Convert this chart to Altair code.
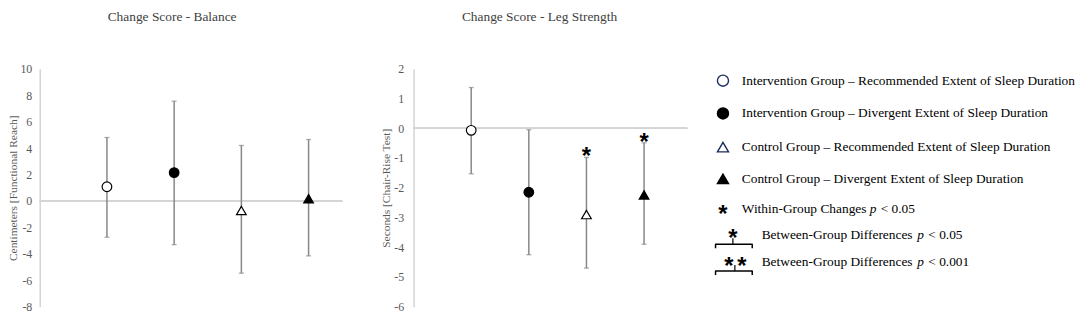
import altair as alt
import pandas as pd

# ---------------- data ----------------
groups = [
    "Intervention Group – Recommended Extent of Sleep Duration",
    "Intervention Group – Divergent Extent of Sleep Duration",
    "Control Group – Recommended Extent of Sleep Duration",
    "Control Group – Divergent Extent of Sleep Duration",
]
group_pos = [1, 2, 3, 4]
marker_shape = ["circle", "circle", "triangle-up", "triangle-up"]
marker_fill = ["white", "black", "white", "black"]

balance_mean = [1.08, 2.15, -0.72, 0.17]
balance_upper = [4.8, 7.55, 4.2, 4.65]
balance_lower = [-2.74, -3.3, -5.46, -4.15]
balance_within_sig = [0, 0, 0, 0]

leg_mean = [-0.07, -2.15, -2.9, -2.24]
leg_upper = [1.37, -0.05, -0.98, -0.49]
leg_lower = [-1.53, -4.25, -4.7, -3.9]
leg_within_sig = [0, 0, 1, 1]

balance_ticks = [10, 8, 6, 4, 2, 0, -2, -4, -6, -8]
leg_ticks = [2, 1, 0, -1, -2, -3, -4, -5, -6]

legend_labels = groups + [
    "Within-Group Changes",
    "Between-Group Differences",
    "Between-Group Differences",
]
legend_pvals = ["< 0.05", "< 0.05", "< 0.001"]

# ---------------- style ----------------
SERIF = "Liberation Serif"
STAR_FONT = "Liberation Sans"
GRID = "#d4d4d4"
BAR = "#878787"
LABEL = "#595959"
TITLE = "#404040"


def panel(title, ytitle, mean, upper, lower, sig, ydomain, yticks, xmax,
          width, height, title_dx, lab_pad, title_pad):
    df = pd.DataFrame({
        "group": groups, "pos": group_pos, "mean": mean, "upper": upper,
        "lower": lower, "shape": marker_shape, "fill": marker_fill,
        "sig": sig, "zero": [0] * len(groups),
    })
    xenc = alt.X("pos:Q", scale=alt.Scale(domain=[0, xmax], nice=False), axis=None)
    ysc = alt.Scale(domain=ydomain, nice=False, zero=False)
    yaxis = alt.Axis(
        values=yticks, ticks=False, grid=False, domainColor=GRID, domainWidth=1.5,
        labelColor=LABEL, labelFont=SERIF, labelFontSize=12, labelPadding=lab_pad,
        labelExpr="'' + datum.value",
        title=ytitle, titleFont=SERIF, titleFontSize=11.5, titleFontWeight="normal",
        titleColor=LABEL, titlePadding=title_pad,
    )

    def Y(field):
        return alt.Y(f"{field}:Q", scale=ysc, axis=yaxis)

    base = alt.Chart(df)
    zero = base.mark_rule(color=GRID, strokeWidth=1.5).encode(y=Y("zero"))
    err = base.mark_rule(color=BAR, strokeWidth=1.5).encode(
        x=xenc, y=Y("lower"), y2="upper")
    cap_hi = base.mark_tick(orient="horizontal", size=5, thickness=1.3, color=BAR).encode(
        x=xenc, y=Y("upper"))
    cap_lo = base.mark_tick(orient="horizontal", size=5, thickness=1.3, color=BAR).encode(
        x=xenc, y=Y("lower"))
    pts = base.mark_point(filled=True, stroke="black", strokeWidth=1.2, size=95,
                          opacity=1).encode(
        x=xenc, y=Y("mean"),
        shape=alt.Shape("shape:N", scale=None, legend=None),
        fill=alt.Fill("fill:N", scale=None, legend=None),
    )
    star = base.transform_filter("datum.sig == 1").mark_text(
        text="*", font=STAR_FONT, fontWeight="bold", fontSize=24, color="black",
        baseline="alphabetic", dy=7,
    ).encode(x=xenc, y=Y("upper"))

    return alt.layer(zero, err, cap_hi, cap_lo, pts, star).properties(
        width=width, height=height,
        title=alt.TitleParams(title, font=SERIF, fontSize=13.5, fontWeight="normal",
                              color=TITLE, offset=40, anchor="middle", dx=title_dx),
    )


left = panel("Change Score - Balance", "Centimeters  [Functional  Reach]",
             balance_mean, balance_upper, balance_lower, balance_within_sig,
             [-8, 10], balance_ticks, 4.5, 305, 240, -19, 8, 1)
mid = panel("Change Score - Leg Strength", "Seconds [Chair-Rise Test]",
            leg_mean, leg_upper, leg_lower, leg_within_sig,
            [-6, 2], leg_ticks, 4.75, 276, 240, -11, 10, 2)

# ---------------- legend panel ----------------
one = pd.DataFrame({"k": [0]})
legend_y = [12, 45, 79, 111, 141, 168, 195]
layers = []
legend_stroke = ["#1c2b5a", "black", "#1c2b5a", "black"]
for i in range(4):
    layers.append(
        alt.Chart(one).mark_point(
            shape=marker_shape[i], filled=True, fill=marker_fill[i],
            stroke=legend_stroke[i], strokeWidth=1.4, size=125, opacity=1,
        ).encode(x=alt.value(8), y=alt.value(legend_y[i]))
    )
for i, lab in enumerate(legend_labels):
    layers.append(
        alt.Chart(one).mark_text(
            text=lab, font=SERIF, fontSize=13.5, color="black", align="left",
            baseline="middle",
        ).encode(x=alt.value(27 if i < 5 else 47), y=alt.value(legend_y[i]))
    )
p_x = [156, 204, 204]
for j, pv in enumerate(legend_pvals):
    yy = legend_y[4 + j]
    layers.append(
        alt.Chart(one).mark_text(text="p", font=SERIF, fontSize=13.5, fontStyle="italic",
                                 color="black", align="left", baseline="middle")
        .encode(x=alt.value(p_x[j]), y=alt.value(yy))
    )
    layers.append(
        alt.Chart(one).mark_text(text=pv, font=SERIF, fontSize=13.5, color="black",
                                 align="left", baseline="middle")
        .encode(x=alt.value(p_x[j] + 11), y=alt.value(yy))
    )

# asterisk glyphs in legend
for (sx, sy) in [(8, 141), (18, 165), (14, 193), (27, 193)]:
    layers.append(
        alt.Chart(one).mark_text(text="*", font=STAR_FONT, fontWeight="bold",
                                 fontSize=24, color="black", baseline="alphabetic", dy=14)
        .encode(x=alt.value(sx), y=alt.value(sy))
    )
# brackets
for (ly, stem_x, stem_top) in [(177, 18, 171), (204, 20, 198)]:
    layers.append(alt.Chart(one).mark_rule(color="black", strokeWidth=1.5).encode(
        x=alt.value(0), x2=alt.value(38), y=alt.value(ly)))
    layers.append(alt.Chart(one).mark_rule(color="black", strokeWidth=1.5).encode(
        x=alt.value(0.5), y=alt.value(ly), y2=alt.value(ly + 4)))
    layers.append(alt.Chart(one).mark_rule(color="black", strokeWidth=1.5).encode(
        x=alt.value(37.5), y=alt.value(ly), y2=alt.value(ly + 4)))
    layers.append(alt.Chart(one).mark_rule(color="black", strokeWidth=1.2).encode(
        x=alt.value(stem_x), y=alt.value(stem_top), y2=alt.value(ly)))

legend = alt.layer(*layers).properties(
    width=335, height=240,
    title=alt.TitleParams(" ", font=SERIF, fontSize=13.5, offset=40),
)

chart = alt.hconcat(
    alt.hconcat(left, mid, spacing=38), legend, spacing=26
).properties(padding=0).configure_view(stroke=None)

chart.save("out.html", embed_options={"renderer": "svg", "actions": False})
